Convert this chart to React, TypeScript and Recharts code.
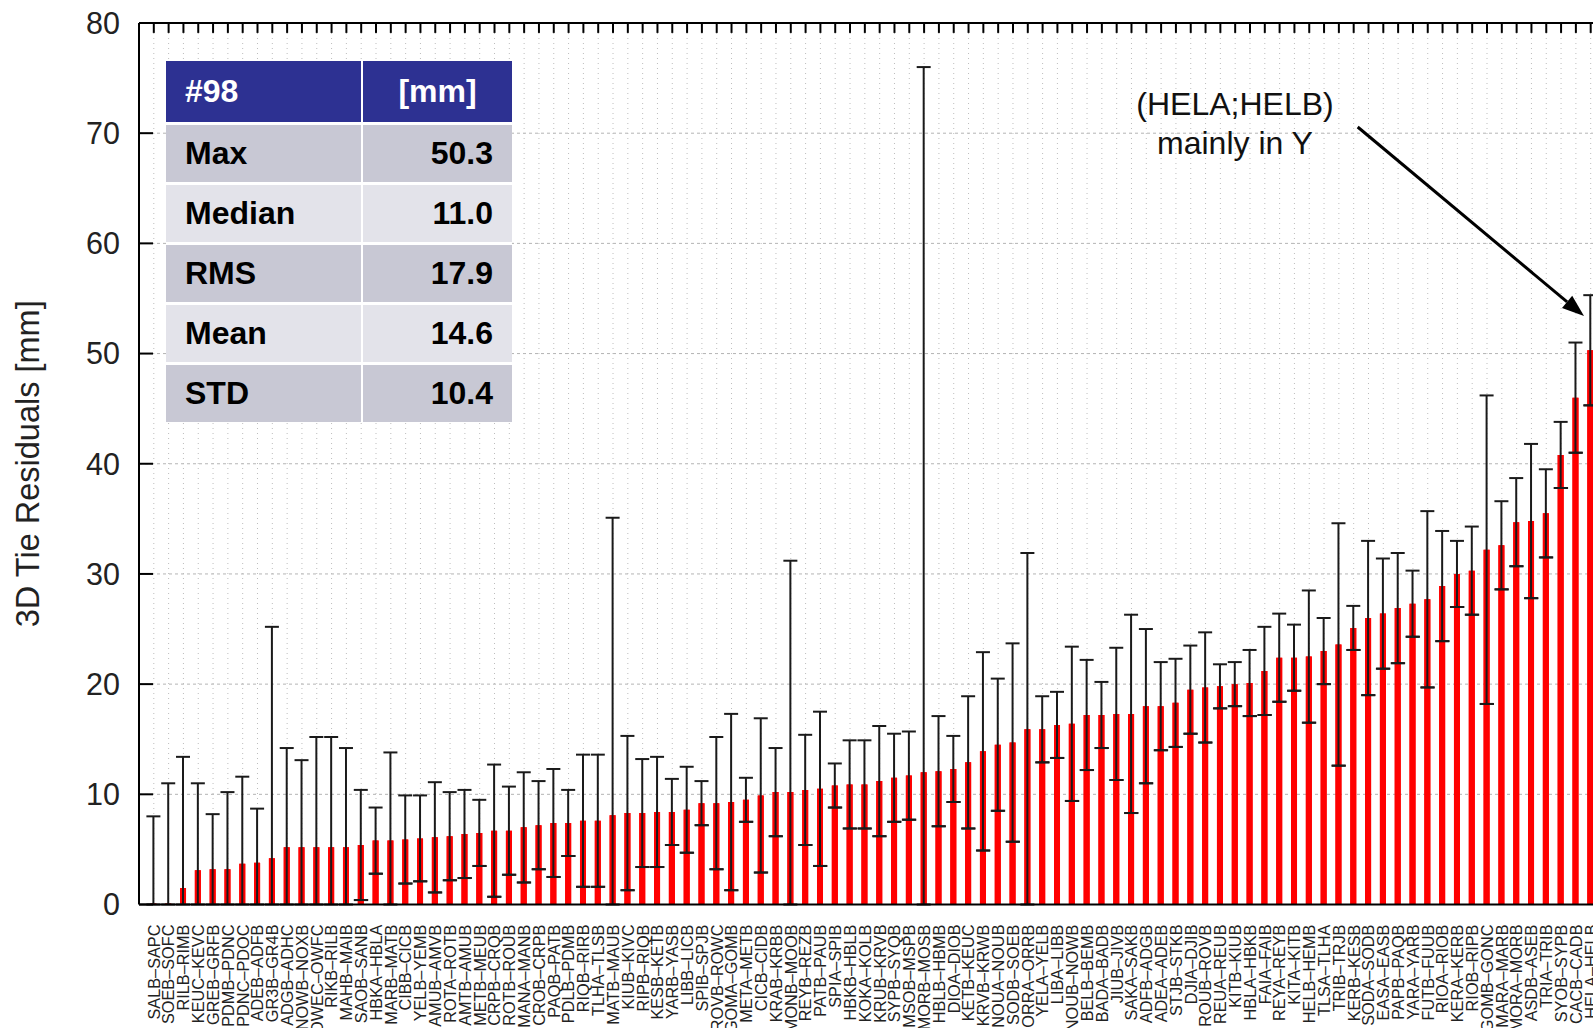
import React from "react";
import {
  Bar,
  CartesianGrid,
  ComposedChart,
  ErrorBar,
  ReferenceLine,
  Scatter,
  XAxis,
  YAxis,
} from "recharts";

const baselines = [
  "SALB–SAPC", "SOEB–SOFC", "RILB–RIMB", "KEUC–KEVC", "GREB–GRFB", "PDMB–PDNC", "PDNC–PDOC",
  "ADEB–ADFB", "GR3B–GR4B", "ADGB–ADHC", "NOWB–NOXB", "OWEC–OWFC", "RIKB–RILB", "MAHB–MAIB",
  "SAOB–SANB", "HBKA–HBLA", "MARB–MATB", "CIBB–CICB", "YELB–YEMB", "AMUB–AMVB", "ROTA–ROTB",
  "AMTB–AMUB", "METB–MEUB", "CRPB–CRQB", "ROTB–ROUB", "MANA–MANB", "CROB–CRPB", "PAQB–PATB",
  "PDLB–PDMB", "RIQB–RIRB", "TLHA–TLSB", "MATB–MAUB", "KIUB–KIVC", "RIPB–RIQB", "KESB–KETB",
  "YARB–YASB", "LIBB–LICB", "SPIB–SPJB", "ROVB–ROWC", "GOMA–GOMB", "META–METB", "CICB–CIDB",
  "KRAB–KRBB", "MONB–MOOB", "REYB–REZB", "PATB–PAUB", "SPIA–SPIB", "HBKB–HBLB", "KOKA–KOLB",
  "KRUB–KRVB", "SYPB–SYQB", "MSOB–MSPB", "MORB–MOSB", "HBLB–HBMB", "DIOA–DIOB", "KETB–KEUC",
  "KRVB–KRWB", "NOUA–NOUB", "SODB–SOEB", "ORRA–ORRB", "YELA–YELB", "LIBA–LIBB", "NOUB–NOWB",
  "BELB–BEMB", "BADA–BADB", "JIUB–JIVB", "SAKA–SAKB", "ADFB–ADGB", "ADEA–ADEB", "STJB–STKB",
  "DJIA–DJIB", "ROUB–ROVB", "REUA–REUB", "KITB–KIUB", "HBLA–HBKB", "FAIA–FAIB", "REYA–REYB",
  "KITA–KITB", "HELB–HEMB", "TLSA–TLHA", "TRIB–TRJB", "KERB–KESB", "SODA–SODB", "EASA–EASB",
  "PAPB–PAQB", "YARA–YARB", "FUTB–FUUB", "RIOA–RIOB", "KERA–KERB", "RIOB–RIPB", "GOMB–GONC",
  "MARA–MARB", "MORA–MORB", "ASDB–ASEB", "TRIA–TRIB", "SYOB–SYPB", "CACB–CADB", "HELA–HELB",
];

// 3D tie residual per baseline [mm]
const residuals = [
  0.1, 0.1, 1.5, 3.1, 3.2, 3.2, 3.7, 3.8, 4.2, 5.2,
  5.2, 5.2, 5.2, 5.2, 5.4, 5.8, 5.8, 5.9, 6.0, 6.1,
  6.2, 6.4, 6.5, 6.7, 6.7, 7.0, 7.2, 7.4, 7.4, 7.6,
  7.6, 8.1, 8.3, 8.3, 8.4, 8.4, 8.6, 9.2, 9.2, 9.3,
  9.5, 9.9, 10.2, 10.2, 10.4, 10.5, 10.8, 10.9, 10.9, 11.2,
  11.5, 11.7, 12.0, 12.1, 12.3, 12.9, 13.9, 14.5, 14.7, 15.9,
  15.9, 16.3, 16.4, 17.2, 17.2, 17.3, 17.3, 18.0, 18.0, 18.3,
  19.5, 19.7, 19.8, 20.0, 20.1, 21.2, 22.4, 22.4, 22.5, 23.0,
  23.6, 25.1, 26.0, 26.4, 26.9, 27.3, 27.7, 28.9, 30.0, 30.3,
  32.2, 32.6, 34.7, 34.8, 35.5, 40.8, 46.0, 50.3,
];

// formal error (+/-) of each residual [mm]
const sigmas = [
  7.9, 10.9, 11.9, 7.9, 5, 7, 7.9, 4.9, 21, 9,
  7.9, 10, 10, 9, 5, 3, 8, 4, 3.9, 5,
  4, 4, 3, 6, 4, 5, 4, 4.9, 3, 6,
  6, 27, 7, 4.9, 5, 3, 3.9, 2, 6, 8,
  2, 7, 4, 21, 5, 7, 2, 4, 4, 5,
  4, 4, 64, 5, 3, 6, 9, 6, 9, 16,
  3, 3, 7, 5, 3, 6, 9, 7, 4, 4,
  4, 5, 2, 2, 3, 4, 4, 3, 6, 3,
  11, 2, 7, 5, 5, 3, 8, 5, 3, 4,
  14, 4, 4, 7, 4, 3, 5, 5,
];

const yTicks = [0, 10, 20, 30, 40, 50, 60, 70, 80];
const yMax = 80;
const statLabels = ["Max", "Median", "RMS", "Mean", "STD"];
const statValues = ["50.3", "11.0", "17.9", "14.6", "10.4"];

const FONT = '"Liberation Sans", Arial, Helvetica, sans-serif';
const RED = "#ff0000";
const INK = "#1a1a1a";
const pad = { left: 7.4, right: 7.4 };

const rows = baselines.map((name, i) => {
  const v = residuals[i];
  const s = sigmas[i];
  return {
    name,
    value: v,
    // lower whisker stops at zero (it sits on the axis line)
    bounds: [Math.min(s, v), s],
    low: v - s >= 0 ? v - s : null,
  };
});

function BaselineTick({ x, y, payload }: any) {
  return (
    <text
      x={x}
      y={y}
      dy="0.36em"
      textAnchor="end"
      transform={`rotate(-90, ${x}, ${y})`}
      fontSize={16.3}
      fill="#222"
      fontFamily={FONT}
    >
      {payload.value}
    </text>
  );
}

function NoLabel() {
  return <g />;
}

function LowDash({ cx, cy }: any) {
  if (!Number.isFinite(cx) || !Number.isFinite(cy)) return null;
  return <line x1={cx - 7} x2={cx + 7} y1={cy} y2={cy} stroke={INK} strokeWidth={2} />;
}

function cell(bg: string, color: string, justify: string): React.CSSProperties {
  return {
    background: bg,
    color,
    display: "flex",
    alignItems: "center",
    justifyContent: justify,
    padding: "0 19px",
  };
}

export default function App() {
  return (
    <div
      style={{
        position: "fixed",
        left: 8,
        top: 8,
        width: 1585,
        height: 1020,
        overflow: "hidden",
        background: "#fff",
      }}
    >
      <ComposedChart width={1601} height={1020} data={rows} margin={{ top: 15, right: 3.5, bottom: 0, left: 0 }}>
        <CartesianGrid vertical={false} stroke="#b4b4b4" strokeDasharray="3 3" />
        <CartesianGrid horizontal={false} stroke="#bdbdbd" strokeDasharray="1 4" />
        <XAxis
          dataKey="name"
          interval={0}
          padding={pad}
          height={123.5}
          tickLine={false}
          tickSize={0}
          tickMargin={20}
          tick={<BaselineTick />}
          axisLine={{ stroke: "#000", strokeWidth: 2 }}
        />
        <XAxis xAxisId="cover" dataKey="name" hide padding={pad} />
        <YAxis
          domain={[0, yMax]}
          ticks={yTicks}
          interval={0}
          allowDataOverflow
          width={131}
          tickLine={false}
          tickSize={0}
          tickMargin={19}
          axisLine={{ stroke: "#000", strokeWidth: 2 }}
          tick={{ fontSize: 30.5, fill: "#222", fontFamily: FONT }}
          label={{
            value: "3D Tie Residuals [mm]",
            angle: -90,
            position: "insideLeft",
            offset: 19.5,
            fontSize: 32.5,
            fill: "#222",
            fontFamily: FONT,
            style: { textAnchor: "middle" },
          }}
        />
        {/* mirrored left axis: inward major ticks only */}
        <YAxis
          yAxisId="inner"
          mirror
          domain={[0, yMax]}
          ticks={yTicks}
          interval={0}
          allowDataOverflow
          width={20}
          tick={<NoLabel />}
          tickSize={14}
          tickLine={{ stroke: "#000", strokeWidth: 2 }}
          axisLine={false}
        />

        {/* top border with an inward tooth at every category */}
        <ReferenceLine y={yMax} stroke="#000" strokeWidth={2} ifOverflow="visible" />
        {baselines.map((name) => (
          <ReferenceLine
            key={`tooth-${name}`}
            segment={[
              { x: name, y: yMax },
              { x: name, y: yMax - 0.9 },
            ]}
            stroke="#000"
            strokeWidth={2}
            ifOverflow="visible"
          />
        ))}

        <Bar dataKey="value" fill={RED} barSize={6} isAnimationActive={false}>
          <ErrorBar dataKey="bounds" width={7} stroke={INK} strokeWidth={2} />
        </Bar>
        {/* same bars again on a hidden axis, hiding the whisker inside each bar */}
        <Bar xAxisId="cover" dataKey="value" fill={RED} barSize={6} isAnimationActive={false} />
        <Scatter dataKey="low" shape={<LowDash />} isAnimationActive={false} />
      </ComposedChart>

      <div
        style={{
          position: "absolute",
          left: 158,
          top: 53,
          display: "grid",
          gridTemplateColumns: "195px 149px",
          gridTemplateRows: "61px repeat(5, 57px)",
          columnGap: 2,
          rowGap: 3,
          background: "#fff",
          fontFamily: FONT,
          fontWeight: 700,
          fontSize: 32,
        }}
      >
        <div style={cell("#2d3192", "#fff", "flex-start")}>#98</div>
        <div style={cell("#2d3192", "#fff", "center")}>[mm]</div>
        {statLabels.map((label, i) => {
          const bg = i % 2 === 0 ? "#c8c8d4" : "#e3e3ea";
          return (
            <React.Fragment key={label}>
              <div style={cell(bg, "#000", "flex-start")}>{label}</div>
              <div style={cell(bg, "#000", "flex-end")}>{statValues[i]}</div>
            </React.Fragment>
          );
        })}
      </div>

      <div
        style={{
          position: "absolute",
          left: 1077,
          top: 76.5,
          width: 300,
          textAlign: "center",
          fontFamily: FONT,
          fontSize: 32,
          lineHeight: "39px",
          color: "#111",
        }}
      >
        (HELA;HELB)
        <br />
        mainly in Y
      </div>

      <svg
        width={1585}
        height={1020}
        style={{ position: "absolute", left: 0, top: 0, pointerEvents: "none" }}
      >
        <line x1={1349.7} y1={119} x2={1559.1} y2={293.9} stroke="#000" strokeWidth={3} />
        <polygon points="1576,308 1554,300 1564.2,287.8" fill="#000" />
      </svg>
    </div>
  );
}
